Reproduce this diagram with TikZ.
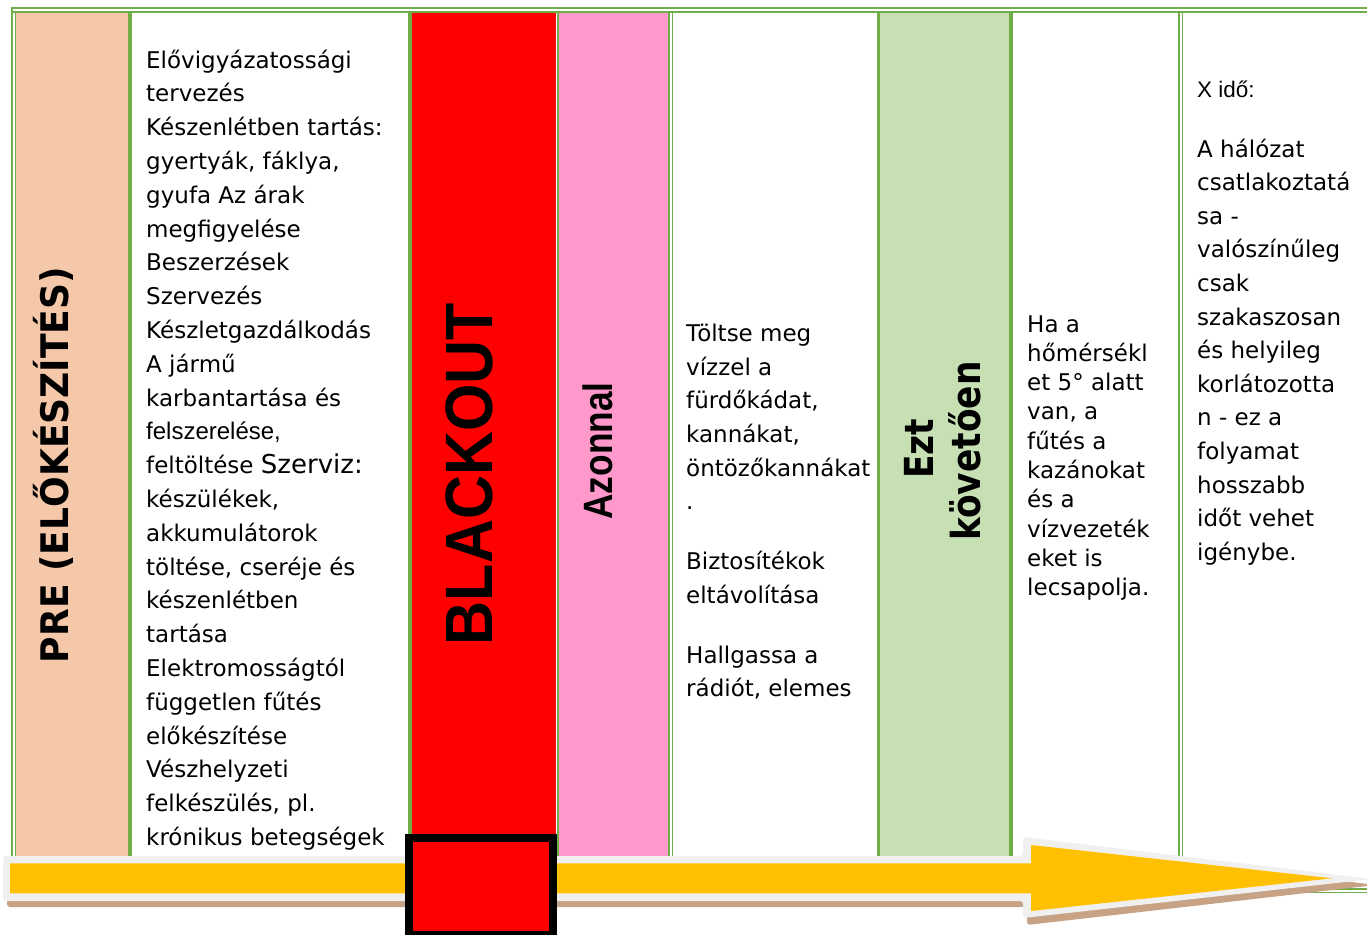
\documentclass[tikz,border=0pt]{standalone}
\usepackage{fontspec}
\setmainfont{DejaVu Sans}
\newfontfamily\arialfont{Liberation Sans}
\usepackage{graphicx}
\definecolor{peach}{HTML}{F5C8AA}
\definecolor{pinkc}{HTML}{FF99CC}
\definecolor{lgreen}{HTML}{C6E0B4}
\definecolor{bgreen}{HTML}{70AD47}
\definecolor{arrowyel}{HTML}{FFC000}
\definecolor{arrowgry}{HTML}{F0F0F0}
\definecolor{arrowshd}{HTML}{C8A284}
\tikzset{
  thin border/.style={draw=bgreen, line width=1.6pt},
  thick border/.style={draw=bgreen, line width=4pt},
  celltext/.style={anchor=base west, inner sep=0pt, text=black},
  rotlabel/.style={rotate=90, anchor=base, inner sep=0pt, text=black},
}
\newcommand\bodyfnt[1]{\fontsize{23}{#1}\selectfont}
\begin{document}
\begin{tikzpicture}[x=1pt,y=-1pt]
\useasboundingbox (0,0) rectangle (1367,934);
\clip (0,0) rectangle (1367,934);
\fill[white] (0,0) rectangle (1367,934);
% cell fills
\fill[peach] (15,12) rectangle (129,890);
\fill[red] (411,12) rectangle (555.5,890);
\fill[pinkc] (559,12) rectangle (669,890);
\fill[lgreen] (879,12) rectangle (1009,890);
% borders
\draw[thin border] (12,8.3) -- (1367,8.3);
\draw[thin border] (12,11.8) -- (1367,11.8);
\draw[thin border] (12,888.8) -- (1367,888.8);
\draw[thin border] (12,892.4) -- (1367,892.4);
\draw[thin border] (12.2,7.5) -- (12.2,893);
\draw[thin border] (15.4,11) -- (15.4,890);
\draw[thick border] (130,11) -- (130,890);
\draw[thick border] (410,11) -- (410,890);
\draw[draw=bgreen, line width=2.5pt] (558.2,11) -- (558.2,890);
\draw[thin border] (669.2,11) -- (669.2,890);
\draw[thin border] (672.5,11) -- (672.5,890);
\draw[draw=bgreen, line width=3pt] (878.5,11) -- (878.5,890);
\draw[thick border] (1010.5,11) -- (1010.5,890);
\draw[thin border] (1179.2,11) -- (1179.2,890);
\draw[thin border] (1182.3,11) -- (1182.3,890);
% rotated headings
\node[rotlabel, font=\bfseries\fontsize{38}{40}\selectfont] (pre) at (68,465) {\scalebox{0.95}[1]{PRE (ELŐKÉSZÍTÉS)}};
\node[rotlabel, font=\arialfont\bfseries\fontsize{67}{70}\selectfont] (blackout) at (492,474) {\scalebox{0.91}[1]{BLACKOUT}};
\node[rotlabel, font=\arialfont\bfseries\fontsize{41}{44}\selectfont] (azonnal) at (612,451) {\scalebox{0.86}[1]{Azonnal}};
\node[rotlabel, font=\bfseries\fontsize{40}{44}\selectfont] (ezt) at (933,449) {\scalebox{0.86}[1]{Ezt}};
\node[rotlabel, font=\bfseries\fontsize{40}{44}\selectfont] (kovetoen) at (980,451) {\scalebox{0.86}[1]{követően}};
% cell texts
\node[celltext] (pretext) at (146,68) {\parbox[t]{300pt}{\bodyfnt{33.8}\raggedright
Elővigyázatossági\\
tervezés\\
Készenlétben tartás:\\
gyertyák, fáklya,\\
gyufa Az árak\\
megfigyelése\\
Beszerzések\\
Szervezés\\
Készletgazdálkodás\\
A jármű\\
karbantartása és\\
{\arialfont\fontsize{24}{33.8}\selectfont felszerelése,}\\
feltöltése {\fontsize{26}{33.8}\selectfont Szerviz:}\\
készülékek,\\
akkumulátorok\\
töltése, cseréje és\\
készenlétben\\
tartása\\
Elektromosságtól\\
független fűtés\\
előkészítése\\
Vészhelyzeti\\
felkészülés, pl.\\
krónikus betegségek}};
\node[celltext] (azonnaltext) at (686,341.7) {\parbox[t]{300pt}{\bodyfnt{33.6}\raggedright
Töltse meg\\
vízzel a\\
fürdőkádat,\\
kannákat,\\
öntözőkannákat\\
.\\[26.4pt]
Biztosítékok\\
eltávolítása\\[26.4pt]
Hallgassa a\\
rádiót, elemes}};
\node[celltext] (utanatext) at (1027,332) {\parbox[t]{200pt}{\bodyfnt{29.3}\raggedright
Ha a\\
hőmérsékl\\
et 5° alatt\\
van, a\\
fűtés a\\
kazánokat\\
és a\\
vízvezeték\\
eket is\\
lecsapolja.}};
\node[celltext] (xidotext) at (1197,97) {\parbox[t]{200pt}{\bodyfnt{33.6}\raggedright
{\arialfont\fontsize{22.5}{33.6}\selectfont X idő:}\\[26.4pt]
A hálózat\\
csatlakoztatá\\
sa -\\
valószínűleg\\
csak\\
szakaszosan\\
és helyileg\\
korlátozotta\\
n - ez a\\
folyamat\\
hosszabb\\
időt vehet\\
igénybe.}};
% timeline arrow
\fill[arrowshd, rounded corners=3pt] (7,862) -- (1027,862) -- (1027,843) -- (1376,885) -- (1027,925) -- (1027,907) -- (7,907) -- cycle;
\fill[arrowgry, rounded corners=3pt] (3,856) -- (1023,856) -- (1023,837) -- (1372,879) -- (1023,918) -- (1023,901) -- (3,901) -- cycle;
\fill[arrowyel] (10,863.3) -- (1031,863.3) -- (1031,845) -- (1332,878.3) -- (1031,911) -- (1031,893.3) -- (10,893.3) -- cycle;
% blackout marker
\node[draw=black, line width=8pt, fill=red, minimum width=144pt, minimum height=97pt, inner sep=0pt, outer sep=0pt, anchor=north west] (marker) at (409,838) {};
\end{tikzpicture}
\end{document}
